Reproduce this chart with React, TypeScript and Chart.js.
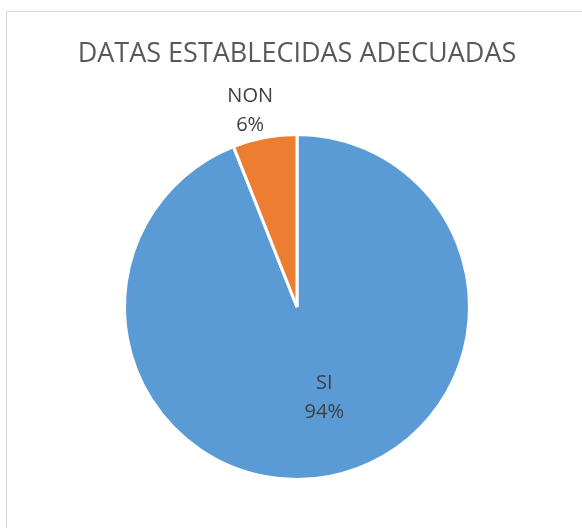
import React, { useEffect, useRef } from "react";
import { Chart, registerables } from "chart.js";

Chart.register(...registerables);

const chartTitle = "DATAS ESTABLECIDAS ADECUADAS";
const categories = ["SI", "NON"];
const values = [94, 6];
const percentLabels = ["94%", "6%"];
const sliceColors = ["#5B9BD5", "#ED7D31"];

// label placement per slice: angle tweak (deg) and radius factor
const labelAngleAdjust = [-6.2, -2.5];
const labelRadiusFactor = [0.54, 1.18];

const titleAndLabels = {
  id: "titleAndLabels",
  beforeDraw(chart: any) {
    const ctx = chart.ctx;
    ctx.save();
    ctx.fillStyle = "#ffffff";
    ctx.fillRect(0, 0, chart.width, chart.height);
    ctx.strokeStyle = "#d9d9d9";
    ctx.lineWidth = 1;
    ctx.strokeRect(6.5, 11.5, 700, 700);
    ctx.restore();
  },
  afterDraw(chart: any) {
    const ctx = chart.ctx;
    const ca = chart.chartArea;
    ctx.save();
    ctx.fillStyle = "#595959";
    ctx.font = "27px 'Open Sans'";
    ctx.textAlign = "center";
    ctx.textBaseline = "alphabetic";
    ctx.fillText(chartTitle, (ca.left + ca.right) / 2, 62);

    const meta = chart.getDatasetMeta(0);
    ctx.font = "20px 'Open Sans'";
    ctx.fillStyle = "#404040";
    meta.data.forEach((arc: any, i: number) => {
      const p = arc.getProps(["x", "y", "startAngle", "endAngle", "outerRadius"], true);
      const mid = (p.startAngle + p.endAngle) / 2 + (labelAngleAdjust[i] * Math.PI) / 180;
      const r = p.outerRadius * labelRadiusFactor[i];
      const ax = p.x + Math.cos(mid) * r;
      const ay = p.y + Math.sin(mid) * r;
      ctx.fillText(categories[i], ax, ay - 7.35);
      ctx.fillText(percentLabels[i], ax, ay + 21.65);
    });
    ctx.restore();
  },
};

export default function App() {
  const ref = useRef<HTMLCanvasElement | null>(null);
  useEffect(() => {
    if (!ref.current) return;
    const chart = new Chart(ref.current, {
      type: "pie",
      data: {
        labels: categories,
        datasets: [
          {
            data: values,
            backgroundColor: sliceColors,
            borderColor: "#ffffff",
            borderWidth: 3,
          },
        ],
      },
      options: {
        responsive: false,
        animation: false,
        layout: { padding: { left: 123, right: 111, top: 133, bottom: 47 } },
        plugins: {
          legend: { display: false },
          title: { display: false },
          tooltip: { enabled: false },
        },
      },
      plugins: [titleAndLabels],
    });
    return () => chart.destroy();
  }, []);
  return (
    <div style={{ position: "fixed", left: 0, top: 0, width: 582, height: 528 }}>
      <canvas ref={ref} width={582} height={528} />
    </div>
  );
}
